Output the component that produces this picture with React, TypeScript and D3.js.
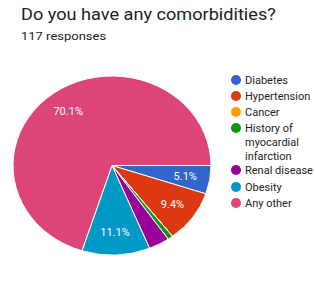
import React, { useEffect, useRef } from 'react';
import * as d3 from 'd3';

const categories = ['Diabetes', 'Hypertension', 'Cancer', 'History of myocardial infarction', 'Renal disease', 'Obesity', 'Any other'];
const counts = [6, 11, 0, 1, 4, 13, 82];
const colors = ['#3366cc', '#dc3912', '#ff9900', '#109618', '#990099', '#0099c6', '#dd4477'];
const legendLines = [['Diabetes'], ['Hypertension'], ['Cancer'], ['History of', 'myocardial', 'infarction'], ['Renal disease'], ['Obesity'], ['Any other']];

const title = 'Do you have any comorbidities?';
const subtitle = '117 responses';

export default function App() {
  const ref = useRef<SVGSVGElement>(null);

  useEffect(() => {
    const svg = d3.select(ref.current);
    svg.selectAll('*').remove();

    const cx = 112;
    const cy = 165.5;
    const r = 89.5;
    const sx = 99 / 89.5;
    const font = 'Roboto, Arial, sans-serif';
    const total = d3.sum(counts);

    // header text is a bit wider than the font, stretch it
    svg.append('text')
      .attr('transform', 'translate(21,20) scale(1.1,1)')
      .attr('font-family', font).attr('font-size', 16.5)
      .attr('fill', '#202124')
      .text(title);

    svg.append('text')
      .attr('transform', 'translate(21,40) scale(1.13,1)')
      .attr('font-family', font).attr('font-size', 11.5)
      .attr('fill', '#202124')
      .text(subtitle);

    const data = categories.map((c, i) => ({ name: c, value: counts[i], color: colors[i] }));

    const pie = d3.pie<any>()
      .value(d => d.value)
      .sort(null)
      .startAngle(Math.PI / 2)
      .endAngle(Math.PI / 2 + 2 * Math.PI);

    const arcs = pie(data);
    const arc = d3.arc<any>().innerRadius(0).outerRadius(r);
    const labelArc = d3.arc<any>().innerRadius(r * 0.75).outerRadius(r * 0.75);

    const g = svg.append('g')
      .attr('transform', `translate(${cx},${cy}) scale(${sx},1)`);

    g.selectAll('path')
      .data(arcs)
      .enter()
      .append('path')
      .attr('d', arc)
      .attr('fill', d => d.data.color)
      .attr('stroke', '#ffffff')
      .attr('stroke-width', 1)
      .attr('vector-effect', 'non-scaling-stroke');

    svg.selectAll('.pct')
      .data(arcs.filter(d => d.data.value / total >= 0.05))
      .enter()
      .append('text')
      .attr('x', d => cx + labelArc.centroid(d)[0] * sx)
      .attr('y', d => cy + labelArc.centroid(d)[1])
      .attr('text-anchor', 'middle')
      .attr('dominant-baseline', 'central')
      .attr('font-family', font).attr('font-size', 11)
      .attr('fill', '#ffffff')
      .text(d => (d.data.value / total * 100).toFixed(1) + '%');

    // legend
    const rowY = [80, 96, 112, 128, 170, 187, 203];
    const lg = svg.append('g');
    legendLines.forEach((lines, i) => {
      lg.append('circle')
        .attr('cx', 236).attr('cy', rowY[i])
        .attr('r', 5)
        .attr('fill', colors[i]);
      lines.forEach((t, j) => {
        lg.append('text')
          .attr('x', 245).attr('y', rowY[i] + j * 14)
          .attr('dominant-baseline', 'central')
          .attr('font-family', font).attr('font-size', 11)
          .attr('fill', '#222222')
          .text(t);
      });
    });
  }, []);

  return (
    <svg ref={ref} width={315} height={289}
      style={{ position: 'absolute', left: 0, top: 0, background: '#ffffff' }} />
  );
}
